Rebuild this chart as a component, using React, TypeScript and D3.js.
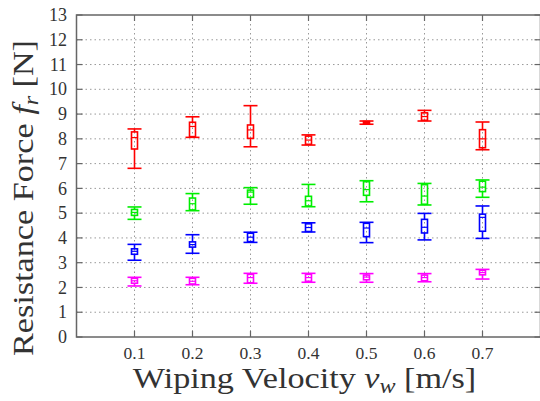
import React from "react";
import * as d3 from "d3";

const velocities = [0.1, 0.2, 0.3, 0.4, 0.5, 0.6, 0.7];
const xTicks = [0.1, 0.2, 0.3, 0.4, 0.5, 0.6, 0.7];
const yTicks = [0, 1, 2, 3, 4, 5, 6, 7, 8, 9, 10, 11, 12, 13];

// [low whisker, q1, median, q3, high whisker]
const redStats = [
  [6.81, 7.59, 8.05, 8.28, 8.4],
  [8.06, 8.09, 8.5, 8.67, 8.89],
  [7.68, 8.02, 8.36, 8.56, 9.34],
  [7.75, 7.78, 7.95, 8.11, 8.16],
  [8.59, 8.62, 8.66, 8.7, 8.72],
  [8.72, 8.75, 8.9, 9.05, 9.15],
  [7.56, 7.64, 8.0, 8.37, 8.68],
];
const greenStats = [
  [4.75, 4.91, 5.03, 5.15, 5.25],
  [5.1, 5.13, 5.38, 5.61, 5.79],
  [5.36, 5.64, 5.85, 5.93, 6.03],
  [5.26, 5.29, 5.5, 5.68, 6.16],
  [5.46, 5.72, 5.95, 6.27, 6.31],
  [5.33, 5.36, 5.69, 6.15, 6.2],
  [5.64, 5.87, 6.05, 6.29, 6.34],
];
const blueStats = [
  [3.1, 3.34, 3.46, 3.56, 3.74],
  [3.38, 3.63, 3.73, 3.84, 4.13],
  [3.82, 3.85, 4.03, 4.19, 4.23],
  [4.24, 4.26, 4.42, 4.57, 4.61],
  [3.81, 4.05, 4.4, 4.59, 4.63],
  [3.92, 4.2, 4.43, 4.75, 4.99],
  [3.98, 4.27, 4.83, 4.96, 5.29],
];
const magentaStats = [
  [2.06, 2.17, 2.27, 2.37, 2.41],
  [2.11, 2.14, 2.25, 2.37, 2.41],
  [2.17, 2.19, 2.4, 2.53, 2.57],
  [2.21, 2.25, 2.4, 2.53, 2.57],
  [2.21, 2.31, 2.42, 2.5, 2.56],
  [2.23, 2.27, 2.4, 2.5, 2.56],
  [2.34, 2.51, 2.6, 2.69, 2.73],
];

const seriesList = [
  { stats: redStats, color: "#ff0000" },
  { stats: greenStats, color: "#00ee00" },
  { stats: blueStats, color: "#0000ff" },
  { stats: magentaStats, color: "#ff00ff" },
];

const W = 540;
const H = 401;
const left = 76.5;
const right = 540.5;
const top = 15;
const bottom = 337;

export default function App() {
  const x = d3.scaleLinear().domain([0, 0.8]).range([left, right]);
  const y = d3.scaleLinear().domain([0, 13]).range([bottom, top]);
  const axisColor = "#666";
  const textColor = "#333";
  const font = "'Liberation Serif', 'Times New Roman', serif";
  const capW = 7;
  const boxW = 3;

  return (
    <svg
      width={W}
      height={H}
      style={{ position: "absolute", left: 0, top: 0 }}
      fontFamily={font}
    >
      <rect x={0} y={0} width={W} height={H} fill="#fff" />
      {/* grid */}
      {yTicks
        .filter((t) => t > 0 && t < 13)
        .map((t) => (
          <line
            key={"gy" + t}
            x1={left}
            x2={right}
            y1={y(t)}
            y2={y(t)}
            stroke="#999"
            strokeWidth={1}
            strokeDasharray="1.5,3"
          />
        ))}
      {xTicks.map((t) => (
        <line
          key={"gx" + t}
          x1={x(t)}
          x2={x(t)}
          y1={top}
          y2={bottom}
          stroke="#999"
          strokeWidth={1}
          strokeDasharray="1.5,3"
        />
      ))}
      {/* frame */}
      <rect
        x={left}
        y={top}
        width={right - left}
        height={bottom - top}
        fill="none"
        stroke={axisColor}
        strokeWidth={1.5}
      />
      {/* y ticks */}
      {yTicks.map((t) => (
        <g key={"ty" + t}>
          <line x1={left} x2={left + 6} y1={y(t)} y2={y(t)} stroke={axisColor} strokeWidth={1.2} />
          <line x1={right - 6} x2={right} y1={y(t)} y2={y(t)} stroke={axisColor} strokeWidth={1.2} />
          <text
            x={67}
            y={y(t)}
            dy="0.34em"
            textAnchor="end"
            fontSize={18}
            fill={textColor}
          >
            {t}
          </text>
        </g>
      ))}
      {/* x ticks */}
      {xTicks.map((t) => (
        <g key={"tx" + t}>
          <line x1={x(t)} x2={x(t)} y1={bottom} y2={bottom - 6} stroke={axisColor} strokeWidth={1.2} />
          <line x1={x(t)} x2={x(t)} y1={top} y2={top + 6} stroke={axisColor} strokeWidth={1.2} />
          <text
            x={x(t)}
            y={359}
            textAnchor="middle"
            fontSize={17.5}
            fill={textColor}
          >
            {t.toFixed(1)}
          </text>
        </g>
      ))}
      {/* box plots */}
      {seriesList.map((s, si) =>
        s.stats.map((d, i) => {
          const cx = x(velocities[i]);
          const [lo, q1, med, q3, hi] = d;
          return (
            <g key={si + "-" + i} stroke={s.color} strokeWidth={1.6} fill="none">
              <line x1={cx} x2={cx} y1={y(hi)} y2={y(q3)} />
              <line x1={cx} x2={cx} y1={y(q1)} y2={y(lo)} />
              <line x1={cx - capW} x2={cx + capW} y1={y(hi)} y2={y(hi)} />
              <line x1={cx - capW} x2={cx + capW} y1={y(lo)} y2={y(lo)} />
              <rect x={cx - boxW} y={y(q3)} width={boxW * 2} height={y(q1) - y(q3)} />
              <line x1={cx - boxW} x2={cx + boxW} y1={y(med)} y2={y(med)} strokeWidth={1.2} />
            </g>
          );
        })
      )}
      {/* axis labels */}
      <text
        transform="translate(304.5,388) scale(1.2,1)"
        textAnchor="middle"
        fontSize={28.5}
        fill={textColor}
      >
        Wiping Velocity{" "}
        <tspan fontStyle="italic">v</tspan>
        <tspan fontStyle="italic" fontSize={20} dy={5}>w</tspan>
        <tspan dy={-5}> [m/s]</tspan>
      </text>
      <text
        transform="translate(33,198) rotate(-90) scale(1.2,1)"
        textAnchor="middle"
        fontSize={28.5}
        fill={textColor}
      >
        Resistance Force{" "}
        <tspan fontStyle="italic">f</tspan>
        <tspan fontStyle="italic" fontSize={20} dy={5}>r</tspan>
        <tspan dy={-5}> [N]</tspan>
      </text>
    </svg>
  );
}
